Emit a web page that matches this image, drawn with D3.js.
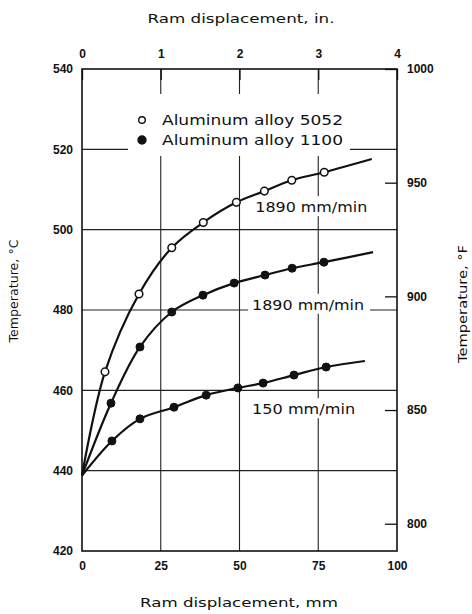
<!DOCTYPE html>
<html>
<head>
<meta charset="utf-8">
<script src="https://cdn.jsdelivr.net/npm/d3@7/dist/d3.min.js"></script>
<style>
  html, body { margin: 0; padding: 0; background: #fff; }
  svg { display: block; }
  text { font-family: "Liberation Sans", Arial, sans-serif; fill: #111; }
  text.wide { font-family: "DejaVu Sans", "Liberation Sans", sans-serif; }
</style>
</head>
<body>
<svg id="chart" width="472" height="614"></svg>
<script>
// ---- data ----
const xTicksMm = [0, 25, 50, 75, 100];
const xTicksIn = [0, 1, 2, 3, 4];
const yTicksC = [420, 440, 460, 480, 500, 520, 540];
const yTicksF = [800, 850, 900, 950, 1000];
const gridMm = [25, 50, 75];
const gridC = [440, 460, 480, 500, 520];

// Aluminum alloy 5052, 1890 mm/min (open circles)
const a5052_1890_mm   = [0, 7.3, 18.1, 28.5, 38.5, 49.0, 57.9, 66.6, 76.9, 92.0];
const a5052_1890_temp = [438.8, 464.6, 484.0, 495.5, 501.8, 506.8, 509.6, 512.3, 514.3, 517.6];
// Aluminum alloy 1100, 1890 mm/min (filled)
const a1100_1890_mm   = [0, 9.2, 18.4, 28.5, 38.4, 48.3, 58.1, 66.7, 76.8, 92.4];
const a1100_1890_temp = [438.8, 456.8, 470.8, 479.5, 483.7, 486.7, 488.7, 490.4, 491.9, 494.4];
// Aluminum alloy 1100, 150 mm/min (filled)
const a1100_150_mm    = [0, 9.5, 18.4, 29.2, 39.4, 49.5, 57.5, 67.3, 77.5, 89.8];
const a1100_150_temp  = [438.8, 447.4, 452.9, 455.8, 458.8, 460.6, 461.8, 463.8, 465.8, 467.3];

const legendLabels = ["Aluminum alloy 5052", "Aluminum alloy 1100"];
const curveLabels = [
  { text: "1890 mm/min", mm: 55.0, temp: 505.6, w: 112 },
  { text: "1890 mm/min", mm: 54.0, temp: 481.3, w: 112 },
  { text: "150 mm/min",  mm: 54.0, temp: 455.3, w: 103 }
];

// ---- layout ----
const svg = d3.select("#chart");
const L = 82, R = 397, T = 69, B = 551;
const x = d3.scaleLinear().domain([0, 100]).range([L, R]);
const xIn = d3.scaleLinear().domain([0, 4]).range([L, R]);
const y = d3.scaleLinear().domain([420, 540]).range([B, T]);
const yF = d3.scaleLinear().domain([788, 1000]).range([B, T]);

// gridlines
const grid = svg.append("g").attr("stroke", "#222").attr("stroke-width", 1.1);
grid.selectAll("line.v").data(gridMm).join("line")
  .attr("x1", d => x(d)).attr("x2", d => x(d)).attr("y1", T).attr("y2", B);
grid.selectAll("line.h").data(gridC).join("line")
  .attr("x1", L).attr("x2", R).attr("y1", d => y(d)).attr("y2", d => y(d));

// frame
svg.append("rect").attr("x", L).attr("y", T).attr("width", R - L).attr("height", B - T)
  .attr("fill", "none").attr("stroke", "#111").attr("stroke-width", 1.6);

// axes
const fmt = d3.format("d");
function styleAxis(g) {
  g.select(".domain").remove();
  g.selectAll("text").style("font-size", "12px").style("font-weight", "bold").attr("fill", "#111");
  g.selectAll("line").attr("stroke", "#111").attr("stroke-width", 1.3);
}
svg.append("g").attr("transform", `translate(0,${B})`)
  .call(d3.axisBottom(x).tickValues(xTicksMm).tickFormat(fmt).tickSize(0).tickPadding(10)).call(styleAxis);
svg.append("g").attr("transform", `translate(0,${T})`)
  .call(d3.axisTop(xIn).tickValues(xTicksIn).tickFormat(fmt).tickSizeInner(-11).tickSizeOuter(0).tickPadding(11)).call(styleAxis);
svg.append("g").attr("transform", `translate(${L},0)`)
  .call(d3.axisLeft(y).tickValues(yTicksC).tickFormat(fmt).tickSize(0).tickPadding(9)).call(styleAxis);
svg.append("g").attr("transform", `translate(${R},0)`)
  .call(d3.axisRight(yF).tickValues(yTicksF).tickFormat(fmt).tickSizeInner(-12).tickSizeOuter(0).tickPadding(10)).call(styleAxis);

// axis titles
function title(txt, tr, w) {
  svg.append("text").attr("class", "wide").attr("transform", tr).attr("text-anchor", "middle")
    .style("font-size", "13px").attr("textLength", w).attr("lengthAdjust", "spacingAndGlyphs").text(txt);
}
title("Ram displacement, in.", "translate(241,23)", 187);
title("Ram displacement, mm", "translate(239,607)", 198);
title("Temperature, °C", "translate(18,291) rotate(-90)", 103);
title("Temperature, °F", "translate(467,304) rotate(-90)", 118);

// legend background & label backgrounds (break gridlines)
svg.append("rect").attr("x", 128).attr("y", 94).attr("width", 222).attr("height", 62).attr("fill", "#fff");
curveLabels.forEach(c => {
  svg.append("rect").attr("x", x(c.mm) - 4).attr("y", y(c.temp) - 11)
    .attr("width", c.w + 10).attr("height", 20).attr("fill", "#fff");
});

// curves
const series = [
  { mm: a5052_1890_mm, t: a5052_1890_temp, open: true },
  { mm: a1100_1890_mm, t: a1100_1890_temp, open: false },
  { mm: a1100_150_mm,  t: a1100_150_temp,  open: false }
];
const line = d3.line().x(d => x(d[0])).y(d => y(d[1])).curve(d3.curveCatmullRom.alpha(0.5));
series.forEach(s => {
  const pts = s.mm.map((m, i) => [m, s.t[i]]);
  svg.append("path").datum(pts).attr("d", line)
    .attr("fill", "none").attr("stroke", "#111").attr("stroke-width", 2.2);
  const marks = pts.slice(1, -1);
  svg.append("g").selectAll("circle").data(marks).join("circle")
    .attr("cx", d => x(d[0])).attr("cy", d => y(d[1]))
    .attr("r", s.open ? 3.8 : 4)
    .attr("fill", s.open ? "#fff" : "#111")
    .attr("stroke", "#111").attr("stroke-width", s.open ? 1.5 : 1);
});

// curve labels
curveLabels.forEach(c => {
  svg.append("text").attr("class", "wide").attr("x", x(c.mm)).attr("y", y(c.temp) + 5)
    .style("font-size", "13.5px").attr("textLength", c.w).attr("lengthAdjust", "spacingAndGlyphs").text(c.text);
});

// legend
legendLabels.forEach((lab, i) => {
  const ly = 120 + i * 20;
  svg.append("circle").attr("cx", 142).attr("cy", ly).attr("r", i === 0 ? 3.3 : 4)
    .attr("fill", i === 0 ? "#fff" : "#111").attr("stroke", "#111").attr("stroke-width", 1.4);
  svg.append("text").attr("class", "wide").attr("x", 162).attr("y", ly + 5).style("font-size", "14px")
    .attr("textLength", 181).attr("lengthAdjust", "spacingAndGlyphs").text(lab);
});
</script>
</body>
</html>
